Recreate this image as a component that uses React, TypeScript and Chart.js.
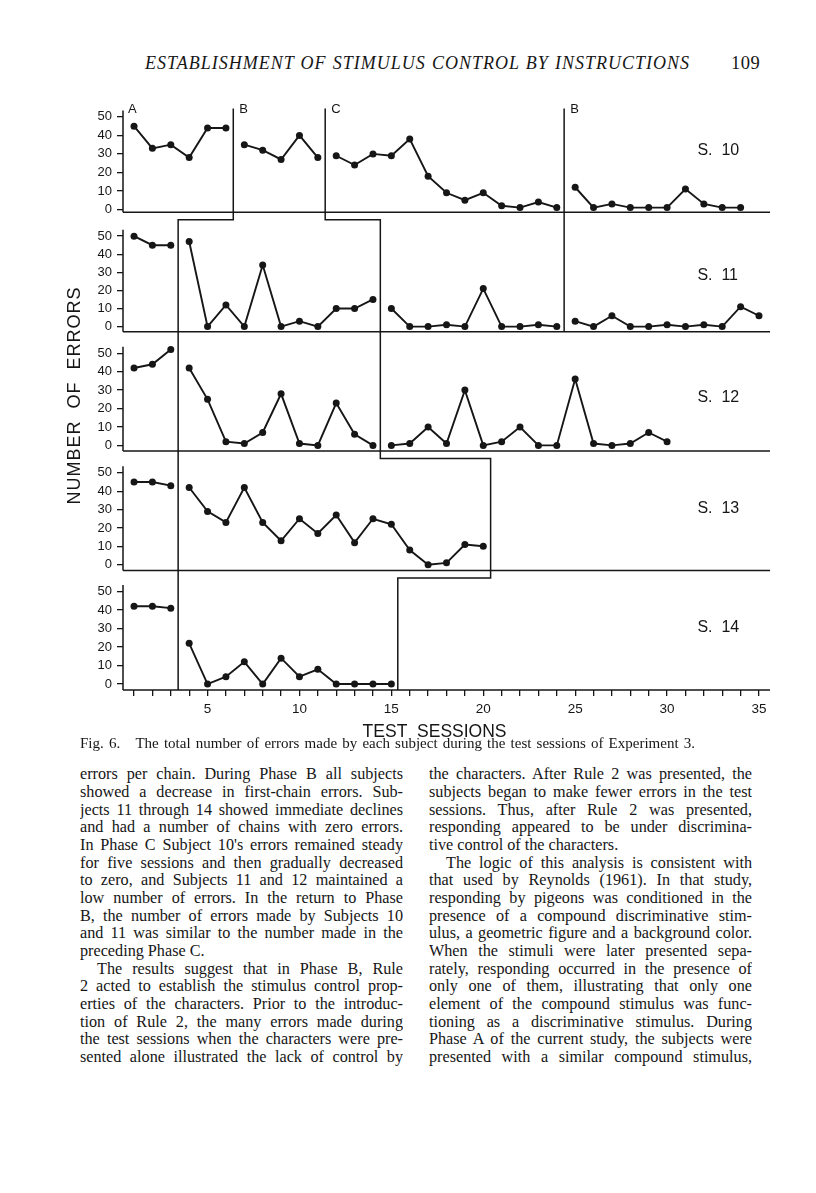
import { useEffect, useRef } from 'react';
import { Chart, registerables } from 'chart.js';

Chart.register(...registerables);

const INK = '#161616';

// ---- axes ----
const SESSION_TICKS = [1, 2, 3, 4, 5, 6, 7, 8, 9, 10, 11, 12, 13, 14, 15, 16, 17, 18, 19, 20, 21, 22, 23, 24, 25, 26, 27, 28, 29, 30, 31, 32, 33, 34, 35];
const SESSION_LABELS = [5, 10, 15, 20, 25, 30, 35];
const ERROR_TICKS = [0, 10, 20, 30, 40, 50];
const PHASE_NAMES = ['A', 'B', 'C', 'B'];

// ---- Subject 10 (phases A, B, C, B) ----
const S10_STARTS = [1, 7, 12, 25];
const S10_A = [45, 33, 35, 28, 44, 44];
const S10_B = [35, 32, 27, 40, 28];
const S10_C = [29, 24, 30, 29, 38, 18, 9, 5, 9, 2, 1, 4, 1];
const S10_B2 = [12, 1, 3, 1, 1, 1, 11, 3, 1, 1];
const S10_PHASE_LINES = [6.4, 11.4, 24.4];

// ---- Subject 11 ----
const S11_STARTS = [1, 4, 15, 25];
const S11_A = [50, 45, 45];
const S11_B = [47, 0, 12, 0, 34, 0, 3, 0, 10, 10, 15];
const S11_C = [10, 0, 0, 1, 0, 21, 0, 0, 1, 0];
const S11_B2 = [3, 0, 6, 0, 0, 1, 0, 1, 0, 11, 6];
const S11_PHASE_LINES = [3.4, 14.4, 24.4];

// ---- Subject 12 ----
const S12_STARTS = [1, 4, 15];
const S12_A = [42, 44, 52];
const S12_B = [42, 25, 2, 1, 7, 28, 1, 0, 23, 6, 0];
const S12_C = [0, 1, 10, 1, 30, 0, 2, 10, 0, 0, 36, 1, 0, 1, 7, 2];
const S12_PHASE_LINES = [3.4, 14.4];

// ---- Subject 13 ----
const S13_STARTS = [1, 4];
const S13_A = [45, 45, 43];
const S13_B = [42, 29, 23, 42, 23, 13, 25, 17, 27, 12, 25, 22, 8, 0, 1, 11, 10];
const S13_PHASE_LINES = [3.4, 20.4];

// ---- Subject 14 ----
const S14_STARTS = [1, 4];
const S14_A = [42, 42, 41];
const S14_B = [22, 0, 4, 12, 0, 14, 4, 8, 0, 0, 0, 0];
const S14_PHASE_LINES = [3.4, 15.35];

const SUBJECTS = [
  { id: 'y10', name: 'S.  10', phases: [S10_A, S10_B, S10_C, S10_B2], starts: S10_STARTS, lines: S10_PHASE_LINES, min: -1.5, max: 63, labelY: 31.7 },
  { id: 'y11', name: 'S.  11', phases: [S11_A, S11_B, S11_C, S11_B2], starts: S11_STARTS, lines: S11_PHASE_LINES, min: -2.8, max: 63.2, labelY: 28.4 },
  { id: 'y12', name: 'S.  12', phases: [S12_A, S12_B, S12_C], starts: S12_STARTS, lines: S12_PHASE_LINES, min: -3.1, max: 61.7, labelY: 26.1 },
  { id: 'y13', name: 'S.  13', phases: [S13_A, S13_B], starts: S13_STARTS, lines: S13_PHASE_LINES, min: -3.2, max: 61.8, labelY: 30.3 },
  { id: 'y14', name: 'S.  14', phases: [S14_A, S14_B], starts: S14_STARTS, lines: S14_PHASE_LINES, min: -3.2, max: 61.3, labelY: 30.3 },
];

const AXIS_TOP = 53.5;
const PHASE_TOP = 54.5;
const PHASE_LABEL_Y = 52.3;

const LEFT_COL = [
  { t: 'errors per chain. During Phase B all subjects' },
  { t: 'showed a decrease in first-chain errors. Sub-' },
  { t: 'jects 11 through 14 showed immediate declines' },
  { t: 'and had a number of chains with zero errors.' },
  { t: "In Phase C Subject 10's errors remained steady" },
  { t: 'for five sessions and then gradually decreased' },
  { t: 'to zero, and Subjects 11 and 12 maintained a' },
  { t: 'low number of errors. In the return to Phase' },
  { t: 'B, the number of errors made by Subjects 10' },
  { t: 'and 11 was similar to the number made in the' },
  { t: 'preceding Phase C.', last: true },
  { t: 'The results suggest that in Phase B, Rule', indent: true },
  { t: '2 acted to establish the stimulus control prop-' },
  { t: 'erties of the characters. Prior to the introduc-' },
  { t: 'tion of Rule 2, the many errors made during' },
  { t: 'the test sessions when the characters were pre-' },
  { t: 'sented alone illustrated the lack of control by' },
];

const RIGHT_COL = [
  { t: 'the characters. After Rule 2 was presented, the' },
  { t: 'subjects began to make fewer errors in the test' },
  { t: 'sessions. Thus, after Rule 2 was presented,' },
  { t: 'responding appeared to be under discrimina-' },
  { t: 'tive control of the characters.', last: true },
  { t: 'The logic of this analysis is consistent with', indent: true },
  { t: 'that used by Reynolds (1961). In that study,' },
  { t: 'responding by pigeons was conditioned in the' },
  { t: 'presence of a compound discriminative stim-' },
  { t: 'ulus, a geometric figure and a background color.' },
  { t: 'When the stimuli were later presented sepa-' },
  { t: 'rately, responding occurred in the presence of' },
  { t: 'only one of them, illustrating that only one' },
  { t: 'element of the compound stimulus was func-' },
  { t: 'tioning as a discriminative stimulus. During' },
  { t: 'Phase A of the current study, the subjects were' },
  { t: 'presented with a similar compound stimulus,' },
];

const figurePlugin = {
  id: 'figure',
  beforeDatasetsDraw(chart: any) {
    const { ctx, chartArea, scales } = chart;
    const xs = scales.x;
    ctx.save();
    ctx.strokeStyle = INK;
    ctx.fillStyle = INK;
    ctx.lineWidth = 1.5;
    // panel axes
    SUBJECTS.forEach((s) => {
      const sc = scales[s.id];
      ctx.beginPath();
      ctx.moveTo(chartArea.left, sc.bottom);
      ctx.lineTo(chartArea.right, sc.bottom);
      ctx.moveTo(chartArea.left, sc.getPixelForValue(AXIS_TOP));
      ctx.lineTo(chartArea.left, sc.bottom);
      ctx.stroke();
    });
    // phase change lines (staircase)
    for (let k = 0; k < 3; k++) {
      ctx.beginPath();
      let started = false;
      let prevY = 0;
      for (let i = 0; i < SUBJECTS.length; i++) {
        const b = SUBJECTS[i].lines[k];
        if (b === undefined) break;
        const sc = scales[SUBJECTS[i].id];
        const x = xs.getPixelForValue(b);
        if (!started) {
          ctx.moveTo(x, sc.getPixelForValue(PHASE_TOP));
          started = true;
        } else {
          ctx.lineTo(x, prevY);
        }
        const next = SUBJECTS[i + 1] ? SUBJECTS[i + 1].lines[k] : undefined;
        if (next !== undefined) {
          prevY = sc.bottom + 7.5;
          ctx.lineTo(x, prevY);
        } else {
          ctx.lineTo(x, sc.bottom);
        }
      }
      ctx.stroke();
    }
    // phase names above top panel
    const top = scales.y10;
    ctx.font = '13px "Liberation Sans"';
    ctx.textAlign = 'left';
    ctx.textBaseline = 'alphabetic';
    const ly = top.getPixelForValue(PHASE_LABEL_Y);
    ctx.fillText(PHASE_NAMES[0], chartArea.left + 5, ly);
    S10_PHASE_LINES.forEach((b, k) => {
      ctx.fillText(PHASE_NAMES[k + 1], xs.getPixelForValue(b) + 6, ly);
    });
    // subject labels
    ctx.font = '16px "Liberation Sans"';
    ctx.textBaseline = 'middle';
    SUBJECTS.forEach((s) => {
      const sc = scales[s.id];
      ctx.fillText(s.name, xs.getPixelForValue(31.65), sc.getPixelForValue(s.labelY));
    });
    // axis titles
    ctx.font = '17.5px "Liberation Sans"';
    ctx.textAlign = 'center';
    ctx.textBaseline = 'middle';
    ctx.fillText('TEST  SESSIONS', xs.getPixelForValue(17.35), xs.top + 42);
    ctx.save();
    ctx.translate(chartArea.left - 48, (chartArea.top + chartArea.bottom) / 2 + 4);
    ctx.rotate(-Math.PI / 2);
    ctx.font = '18px "Liberation Sans"';
    (ctx as any).letterSpacing = '1px';
    ctx.fillText('NUMBER  OF  ERRORS', 0, 0);
    ctx.restore();
    ctx.restore();
  },
};

function yScale(s: any) {
  return {
    type: 'linear',
    position: 'left',
    stack: 'panels',
    stackWeight: 1,
    min: s.min,
    max: s.max,
    afterBuildTicks: (sc: any) => {
      sc.ticks = ERROR_TICKS.map((v) => ({ value: v }));
    },
    afterFit: (sc: any) => {
      sc.width = 60;
    },
    border: { display: false },
    grid: { display: true, drawOnChartArea: false, drawTicks: true, tickLength: 6, color: INK, lineWidth: 1.3 },
    ticks: { color: INK, font: { size: 13, family: 'Liberation Sans' }, padding: 5, autoSkip: false, callback: (v: any) => String(v) },
  };
}

export default function App() {
  const ref = useRef<HTMLCanvasElement>(null);
  useEffect(() => {
    const canvas = ref.current!;
    const datasets: any[] = [];
    SUBJECTS.forEach((s) => {
      s.phases.forEach((vals, p) => {
        datasets.push({
          data: vals.map((v, i) => ({ x: s.starts[p] + i, y: v })),
          xAxisID: 'x',
          yAxisID: s.id,
          borderColor: INK,
          backgroundColor: INK,
          borderWidth: 1.9,
          pointRadius: 3.5,
          pointBorderWidth: 0,
          pointBackgroundColor: INK,
          tension: 0,
          clip: false,
        });
      });
    });
    const scales: any = {
      x: {
        type: 'linear',
        position: 'bottom',
        min: 0.4,
        max: 35.6,
        afterBuildTicks: (sc: any) => {
          sc.ticks = SESSION_TICKS.map((v) => ({ value: v }));
        },
        afterFit: (sc: any) => {
          sc.height = 53.5;
        },
        border: { display: false },
        grid: { display: true, drawOnChartArea: false, drawTicks: true, tickLength: 6, color: INK, lineWidth: 1.3 },
        ticks: {
          autoSkip: false,
          maxRotation: 0,
          padding: 5,
          color: INK,
          font: { size: 13.5, family: 'Liberation Sans' },
          callback: (v: any) => (SESSION_LABELS.includes(v) ? String(v) : ''),
        },
      },
    };
    // later-defined stacked left scales are placed on top
    [...SUBJECTS].reverse().forEach((s) => {
      scales[s.id] = yScale(s);
    });
    const chart = new Chart(canvas, {
      type: 'line',
      data: { datasets },
      options: {
        animation: false,
        responsive: false,
        devicePixelRatio: 1,
        layout: { padding: { left: 63, right: 46, top: 10, bottom: 6.5 } },
        plugins: { legend: { display: false }, tooltip: { enabled: false } },
        scales,
      } as any,
      plugins: [figurePlugin],
    });
    return () => chart.destroy();
  }, []);

  const serif = '"Liberation Serif", "Times New Roman", serif';
  const lineH = 17.69;
  const renderCol = (lines: any[], left: number) => (
    <div style={{ position: 'absolute', left, top: 775 - lineH / 2, width: 323, fontFamily: serif, fontSize: 16.2, color: INK }}>
      {lines.map((l, i) => (
        <div
          key={i}
          style={{
            height: lineH,
            lineHeight: `${lineH}px`,
            textAlign: l.last ? 'left' : 'justify',
            textAlignLast: l.last ? 'left' : 'justify',
            paddingLeft: l.indent ? 17 : 0,
            overflow: 'hidden',
          } as any}
        >
          {l.t}
        </div>
      ))}
    </div>
  );

  return (
    <div>
      <div style={{ position: 'absolute', left: 145, top: 52, width: 545, height: 22, lineHeight: '22px', fontFamily: serif, fontStyle: 'italic', fontSize: 18, letterSpacing: 1, color: INK, textAlign: 'justify', textAlignLast: 'justify', whiteSpace: 'pre' } as any}>
        ESTABLISHMENT OF STIMULUS CONTROL BY INSTRUCTIONS
      </div>
      <div style={{ position: 'absolute', left: 731, top: 52, height: 22, lineHeight: '22px', fontFamily: serif, fontSize: 18.5, letterSpacing: 0.5, color: INK }}>109</div>
      <canvas ref={ref} width={816} height={670} style={{ position: 'absolute', left: 0, top: 80, width: 816, height: 670 }} />
      <div style={{ position: 'absolute', left: 80, top: 735, width: 615, height: 16, lineHeight: '16px', fontFamily: serif, fontSize: 15, color: INK, textAlign: 'justify', textAlignLast: 'justify', whiteSpace: 'pre' } as any}>
        {'Fig. 6.   The total number of errors made by each subject during the test sessions of Experiment 3.'}
      </div>
      {renderCol(LEFT_COL, 80)}
      {renderCol(RIGHT_COL, 429)}
    </div>
  );
}
